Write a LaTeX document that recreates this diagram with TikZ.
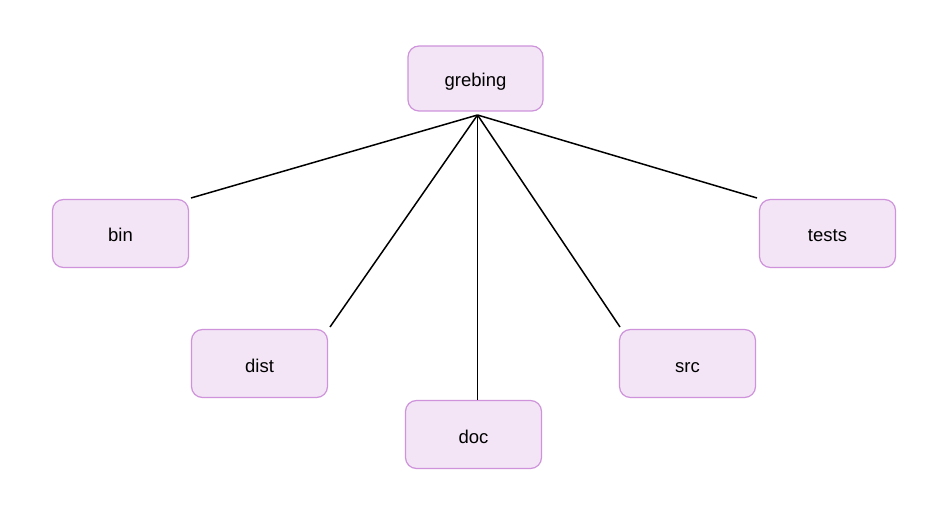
\documentclass[tikz,border=0pt]{standalone}
\usepackage{fontspec}
\setmainfont{Liberation Sans}
\definecolor{boxfill}{HTML}{F3E5F6}
\definecolor{boxline}{HTML}{CE93DA}
\begin{document}
\begin{tikzpicture}[x=1pt,y=-1pt,
  dirbox/.style={draw=boxline,fill=boxfill,line width=1.2pt,rounded corners=11pt,
    minimum width=136pt,minimum height=68pt,inner sep=0pt,
    text height=17pt,text depth=0pt,
    font=\fontsize{18.5}{22}\selectfont},
  link/.style={draw=black,line width=1.5pt}]
\useasboundingbox (0,0) rectangle (947,526);
\node[dirbox,minimum width=135pt,minimum height=65pt] (grebing) at (475.5,78.5) {grebing};
\node[dirbox] (bin) at (120.5,233.5) {bin};
\node[dirbox] (tests) at (827.5,233.5) {tests};
\node[dirbox] (dist) at (259.5,363.5) {dist};
\node[dirbox] (src) at (687.5,363.5) {src};
\node[dirbox] (doc) at (473.5,434.5) {doc};
\coordinate (hub) at (477.5,115);
\coordinate (binend) at (191,198);
\coordinate (distend) at (330,327);
\coordinate (docend) at (477.5,400);
\coordinate (srcend) at (620,327);
\coordinate (testsend) at (757,198);
\draw[link] (hub) -- (binend);
\draw[link] (hub) -- (distend);
\draw[link] (hub) -- (docend);
\draw[link] (hub) -- (srcend);
\draw[link] (hub) -- (testsend);
\end{tikzpicture}
\end{document}
